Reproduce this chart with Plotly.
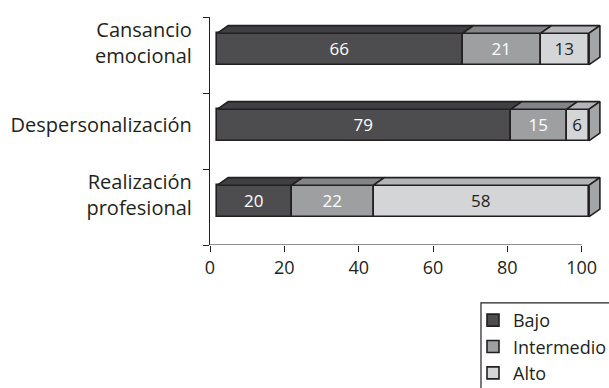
import plotly.graph_objects as go

# Burnout dimensions (top to bottom) and percentage of each level
categories = ["Cansancio<br>emocional", "Despersonalización", "Realización<br>profesional"]
bajo = [66, 79, 20]
intermedio = [21, 15, 22]
alto = [13, 6, 58]
x_ticks = [0, 20, 40, 60, 80, 100]

series = [
    ("Bajo", bajo, "#4d4d4f", "#404042", "white"),
    ("Intermedio", intermedio, "#9d9fa1", "#828486", "white"),
    ("Alto", alto, "#d4d5d7", "#b3b5b7", "#231f20"),
]

EDGE = "#231f20"
FONT = "Open Sans"

# pseudo-3D box geometry (x in % units, y in category units)
OX = 2.0      # front face shift along x
DX = 2.9      # depth along x
DY = 0.10     # depth along y (upwards)
YOFF = 0.08   # front face shift upwards
BW = 0.414    # bar thickness
SIDE = "#a3a5a7"

ypos = list(range(len(categories)))
yfront = [y - YOFF for y in ypos]
# two-line labels sit a little higher than the bar centre
ylabel = [yf - 0.08 * c.count("<br>") for yf, c in zip(yfront, categories)]

fig = go.Figure()

starts = [0] * len(categories)
tops = []
for name, vals, col, topcol, txtcol in series:
    fig.add_trace(go.Bar(
        y=yfront, x=vals, base=[s + OX for s in starts], orientation="h",
        width=BW, name=name,
        marker=dict(color=col, line=dict(color=EDGE, width=1.6)),
        text=vals, texttemplate="%{text}", textposition="inside",
        insidetextanchor="middle", textangle=0, constraintext="none",
        textfont=dict(family=FONT, size=17, color=txtcol),
    ))
    # top faces of this series
    px, py = [], []
    for yc, s, v in zip(yfront, starts, vals):
        e = s + v
        yt = yc - BW / 2
        px += [s + OX, s + OX + DX, e + OX + DX, e + OX, s + OX, None]
        py += [yt, yt - DY, yt - DY, yt, yt, None]
    tops.append((px, py, topcol))
    starts = [s + v for s, v in zip(starts, vals)]

for px, py, topcol in tops:
    fig.add_trace(go.Scatter(
        x=px, y=py, mode="lines", fill="toself", fillcolor=topcol,
        line=dict(color=EDGE, width=1.6), showlegend=False, hoverinfo="skip",
    ))

# right-hand side faces at the end of each stack
sx, sy = [], []
for yc, e in zip(yfront, starts):
    yt, yb = yc - BW / 2, yc + BW / 2
    sx += [e + OX, e + OX + DX, e + OX + DX, e + OX, e + OX, None]
    sy += [yt, yt - DY, yb - DY, yb, yt, None]
fig.add_trace(go.Scatter(
    x=sx, y=sy, mode="lines", fill="toself", fillcolor=SIDE,
    line=dict(color=EDGE, width=1.6), showlegend=False, hoverinfo="skip",
))

# x axis line only spans 0-100
fig.add_shape(type="line", xref="x", yref="y", x0=0, x1=100, y0=2.5, y1=2.5,
              line=dict(color=EDGE, width=1.2), layer="above")
# legend frame
fig.add_shape(type="rect", xref="paper", yref="paper",
              x0=0.6878, x1=1.2, y0=-0.254, y1=-0.9,
              line=dict(color=EDGE, width=1.2), layer="above")

fig.update_layout(
    width=609, height=388,
    margin=dict(l=210, r=5, t=17, b=143, autoexpand=False),
    paper_bgcolor="white", plot_bgcolor="white",
    barmode="overlay", bargap=0,
    font=dict(family=FONT, size=18, color="#231f20"),
    showlegend=True,
    legend=dict(x=0.6675, y=-0.2495, xanchor="left", yanchor="top",
                bgcolor="rgba(0,0,0,0)", borderwidth=0,
                font=dict(family=FONT, size=18, color="#231f20"),
                traceorder="normal", itemclick=False),
    xaxis=dict(range=[0, 106], tickvals=x_ticks, ticks="outside", ticklen=6,
               tickcolor=EDGE, tickwidth=1.2, showgrid=False, zeroline=False,
               showline=False, tickfont=dict(family=FONT, size=18, color="#231f20")),
    yaxis=dict(range=[2.5, -0.5], tickvals=ylabel, ticktext=categories, ticks="",
               showline=True, linecolor=EDGE, linewidth=1.2, showgrid=False,
               zeroline=False, ticklabelstandoff=13,
               tickfont=dict(family=FONT, size=20, color="#231f20"),
               minor=dict(tickvals=[-0.5, 0.5, 1.5, 2.5], ticks="outside",
                          ticklen=6, tickcolor=EDGE, tickwidth=1.2, showgrid=False)),
)

fig.write_html("out.html")
